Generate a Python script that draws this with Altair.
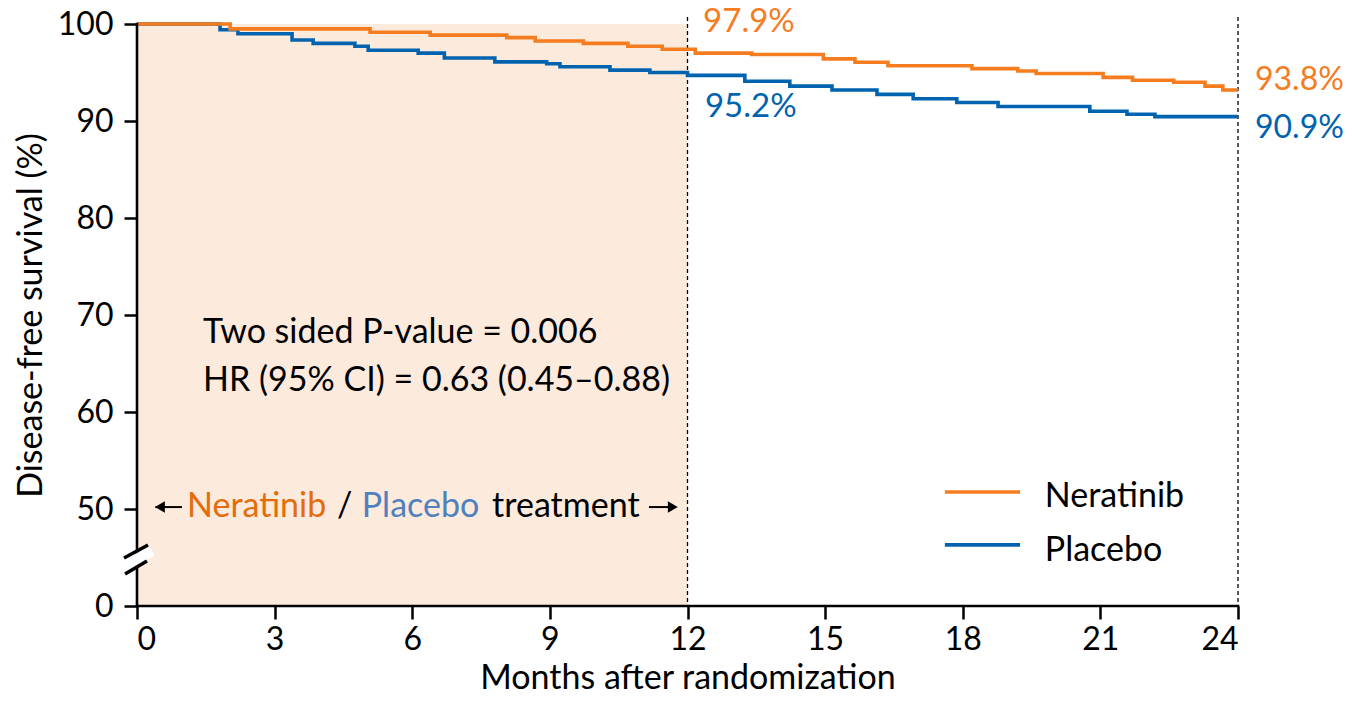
import altair as alt
import pandas as pd

# Kaplan-Meier step data (months, survival %)
ner_t = [0, 2.03, 5.08, 6.39, 8.06, 8.68, 9.73, 10.7, 11.45, 12.17, 13.4, 14.96, 15.65,
         16.37, 18.2, 19.2, 19.6, 21.06, 21.7, 22.6, 23.28, 23.67, 24]
ner_s = [100, 99.5, 99.15, 98.85, 98.6, 98.25, 98.0, 97.7, 97.4, 97.0, 96.85, 96.4, 96.05,
         95.7, 95.4, 95.15, 94.9, 94.5, 94.2, 94.0, 93.6, 93.2, 93.2]
pla_t = [0, 1.81, 2.2, 3.38, 3.84, 4.75, 5.04, 6.13, 6.7, 7.8, 8.93, 9.22, 10.31, 11.18,
         12.0, 13.25, 14.23, 15.15, 16.13, 16.92, 17.87, 18.77, 20.77, 21.58, 22.19, 24]
pla_s = [100, 99.4, 99.0, 98.35, 98.0, 97.7, 97.3, 97.0, 96.5, 96.1, 95.9, 95.6, 95.25, 95.0,
         94.7, 94.1, 93.6, 93.2, 92.75, 92.3, 91.9, 91.5, 91.0, 90.7, 90.45, 90.45]

x_ticks = [0, 3, 6, 9, 12, 15, 18, 21, 24]
y_ticks = [40, 50, 60, 70, 80, 90, 100]   # 40 is shown as "0" (broken axis)

ORANGE = "#F57C1F"
BLUE = "#0063B0"
FONT = "Lato"
FS = 34

xs = alt.Scale(domain=[0, 24], nice=False)
ys = alt.Scale(domain=[40, 100], nice=False)

ner = pd.DataFrame({"t": ner_t, "s": ner_s})
pla = pd.DataFrame({"t": pla_t, "s": pla_s})

xenc = alt.X("t:Q", scale=xs,
             axis=alt.Axis(values=x_ticks, title="Months after randomization", domain=False,
                           grid=False, tickSize=13, tickWidth=2.5, tickColor="black",
                           labelPadding=5, titlePadding=6))
yenc = alt.Y("s:Q", scale=ys,
             axis=alt.Axis(values=y_ticks, title="Disease-free survival (%)", domain=False,
                           grid=False, tickSize=13, tickWidth=2.5, tickColor="black",
                           labelPadding=11, titlePadding=9,
                           labelExpr="datum.value == 40 ? '0' : datum.label"))

shade = alt.Chart(pd.DataFrame({"t": [0], "t2": [12], "s": [40], "s2": [100]})).mark_rect(
    color="#FCEADC").encode(x=xenc, x2="t2:Q", y=yenc, y2="s2:Q")

vlines = alt.Chart(pd.DataFrame({"t": [12, 24]})).mark_rule(
    color="black", strokeDash=[4, 3], strokeWidth=1.3).encode(
    x=alt.X("t:Q", scale=xs), y=alt.value(-7), y2=alt.value(582))

pla_line = alt.Chart(pla).mark_line(interpolate="step-after", color=BLUE, strokeWidth=3.6).encode(
    x=alt.X("t:Q", scale=xs), y=alt.Y("s:Q", scale=ys))
ner_line = alt.Chart(ner).mark_line(interpolate="step-after", color=ORANGE, strokeWidth=3.6).encode(
    x=alt.X("t:Q", scale=xs), y=alt.Y("s:Q", scale=ys))


def txt(t, s, label, color="black", size=FS, align="left"):
    return alt.Chart(pd.DataFrame({"t": [t], "s": [s], "lab": [label]})).mark_text(
        align=align, baseline="middle", font=FONT, fontSize=size, color=color).encode(
        x=alt.X("t:Q", scale=xs), y=alt.Y("s:Q", scale=ys), text="lab:N")


def seg(t1, s1, t2, s2, color="black", width=2.5, cap="butt"):
    return alt.Chart(pd.DataFrame({"t": [t1, t2], "s": [s1, s2]})).mark_line(
        color=color, strokeWidth=width, strokeCap=cap).encode(
        x=alt.X("t:Q", scale=xs), y=alt.Y("s:Q", scale=ys))


def head(t, s, shape):
    return alt.Chart(pd.DataFrame({"t": [t], "s": [s]})).mark_point(
        shape=shape, filled=True, color="black", size=130, opacity=1).encode(
        x=alt.X("t:Q", scale=xs), y=alt.Y("s:Q", scale=ys))


labels = [
    txt(12.34, 100.2, "97.9%", ORANGE, 33),
    txt(12.38, 91.44, "95.2%", BLUE, 33),
    txt(24.37, 94.23, "93.8%", ORANGE, 32),
    txt(24.37, 89.28, "90.9%", BLUE, 32),
    txt(1.44, 68.14, "Two sided P-value = 0.006"),
    txt(1.44, 63.2, "HR (95% CI) = 0.63 (0.45\u20130.88)"),
    txt(1.09, 50.2, "Neratinib", "#E46C0A"),
    txt(4.36, 50.2, "/", "black"),
    txt(4.9, 50.2, "Placebo", "#4F81BD"),
    txt(7.74, 50.2, "treatment", "black"),
    txt(19.79, 51.24, "Neratinib"),
    txt(19.79, 45.67, "Placebo"),
]

arrows = [
    seg(0.4, 50.2, 0.98, 50.2, width=2),
    head(0.5, 50.2, "triangle-left"),
    seg(11.16, 50.2, 11.75, 50.2, width=2),
    head(11.68, 50.2, "triangle-right"),
]

legend = [
    seg(17.61, 51.75, 19.25, 51.75, ORANGE, 3.6),
    seg(17.61, 46.3, 19.25, 46.3, BLUE, 3.6),
]

axes_lines = [
    seg(0, 40, 0, 100, width=2.6, cap="square"),
    seg(0, 40, 24, 40, width=2.6, cap="square"),
]

brk = [
    seg(-0.28, 44.12, 0.33, 45.67, "white", 11),
    seg(-0.283, 44.95, 0.24, 46.29, "black", 3.5),
    seg(-0.26, 43.30, 0.218, 44.64, "black", 3.5),
]

chart = alt.layer(
    shade, vlines, pla_line, ner_line, *labels, *arrows, *legend, *axes_lines, *brk
).properties(
    width=1101, height=582,
    autosize=alt.AutoSizeParams(type="none"),
    padding={"left": 129, "top": 16, "right": 106, "bottom": 90},
).configure_view(stroke=None).configure_axis(
    labelFont=FONT, titleFont=FONT, labelFontSize=32, titleFontSize=34,
    labelColor="black", titleColor="black", titleFontWeight="normal"
)

chart.save("out.html", embed_options={"renderer": "svg", "actions": False})
